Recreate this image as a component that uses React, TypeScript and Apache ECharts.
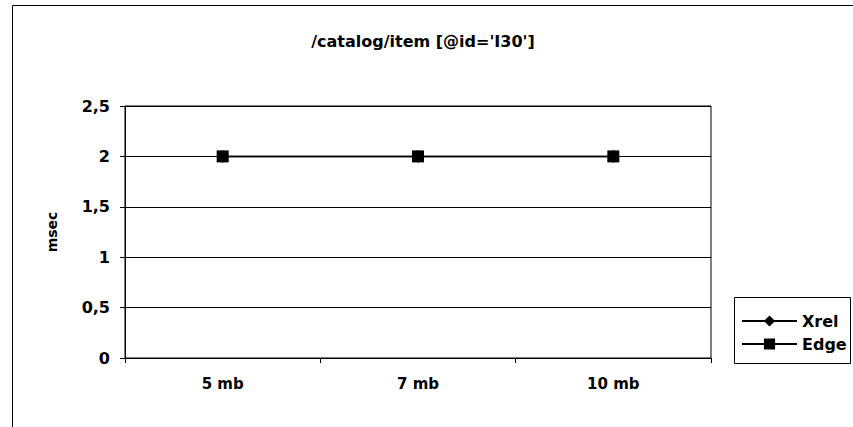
import React, { useEffect, useRef } from "react";
import * as echarts from "echarts";

const titleText = "/catalog/item [@id='I30']";
const yAxisName = "msec";
const categories = ["5 mb", "7 mb", "10 mb"];
const xrelValues = [2, 2, 2];
const edgeValues = [2, 2, 2];
const yMin = 0;
const yMax = 2.5;
const yStep = 0.5;

const FONT = "'DejaVu Sans', 'Liberation Sans', Arial, sans-serif";

export default function App() {
  const ref = useRef<HTMLDivElement>(null);
  useEffect(() => {
    if (!ref.current) return;
    const chart = echarts.init(ref.current, null, { renderer: "svg" });
    chart.setOption({
      animation: false,
      backgroundColor: "#ffffff",
      textStyle: { fontFamily: FONT },
      title: {
        text: titleText,
        left: 418,
        top: 28,
        textAlign: "center",
        textStyle: { fontFamily: FONT, fontSize: 16, fontWeight: "bold", color: "#000" },
      },
      grid: {
        left: 125,
        right: 142,
        top: 106,
        bottom: 69,
        show: true,
        borderColor: "#000",
        borderWidth: 1,
        backgroundColor: "transparent",
      },
      legend: {
        orient: "vertical",
        left: 741,
        top: 313,
        itemWidth: 55,
        itemHeight: 14,
        itemGap: 7,
        padding: 0,
        textStyle: { fontFamily: FONT, fontSize: 16, fontWeight: "bold", color: "#000" },
        data: ["Xrel", "Edge"],
      },
      graphic: [
        {
          type: "rect",
          shape: { x: 12.5, y: 5.5, width: 850, height: 430 },
          style: { fill: "none", stroke: "#000", lineWidth: 1 },
          silent: true,
        },
        {
          type: "rect",
          shape: { x: 734.5, y: 297.5, width: 116, height: 66 },
          style: { fill: "none", stroke: "#000", lineWidth: 1 },
          silent: true,
        },
      ],
      xAxis: {
        type: "category",
        data: categories,
        boundaryGap: true,
        axisLine: { show: true, lineStyle: { color: "#000", width: 1 } },
        axisTick: { show: true, length: 5, lineStyle: { color: "#000" } },
        axisLabel: { fontFamily: FONT, fontSize: 15, fontWeight: "bold", color: "#000", margin: 18 },
        splitLine: { show: false },
      },
      yAxis: {
        type: "value",
        min: yMin,
        max: yMax,
        interval: yStep,
        name: yAxisName,
        nameLocation: "middle",
        nameGap: 66,
        nameRotate: 90,
        nameTextStyle: { fontFamily: FONT, fontSize: 14, fontWeight: "bold", color: "#000" },
        axisLine: { show: true, lineStyle: { color: "#000", width: 1 } },
        axisTick: { show: true, length: 5, lineStyle: { color: "#000" } },
        axisLabel: {
          fontFamily: FONT,
          fontSize: 16,
          fontWeight: "bold",
          color: "#000",
          margin: 15,
          formatter: (v: number) => String(v).replace(".", ","),
        },
        splitLine: { show: true, lineStyle: { color: "#000", width: 1 } },
      },
      series: [
        {
          name: "Xrel",
          type: "line",
          data: xrelValues,
          symbol: "diamond",
          symbolSize: 13,
          lineStyle: { color: "#000", width: 1.5 },
          itemStyle: { color: "#000" },
        },
        {
          name: "Edge",
          type: "line",
          data: edgeValues,
          symbol: "rect",
          symbolSize: 12,
          lineStyle: { color: "#000", width: 1.5 },
          itemStyle: { color: "#000" },
        },
      ],
    });
    return () => chart.dispose();
  }, []);
  return (
    <div
      ref={ref}
      style={{ position: "fixed", left: 0, top: 0, width: 853, height: 427, background: "#fff" }}
    />
  );
}
